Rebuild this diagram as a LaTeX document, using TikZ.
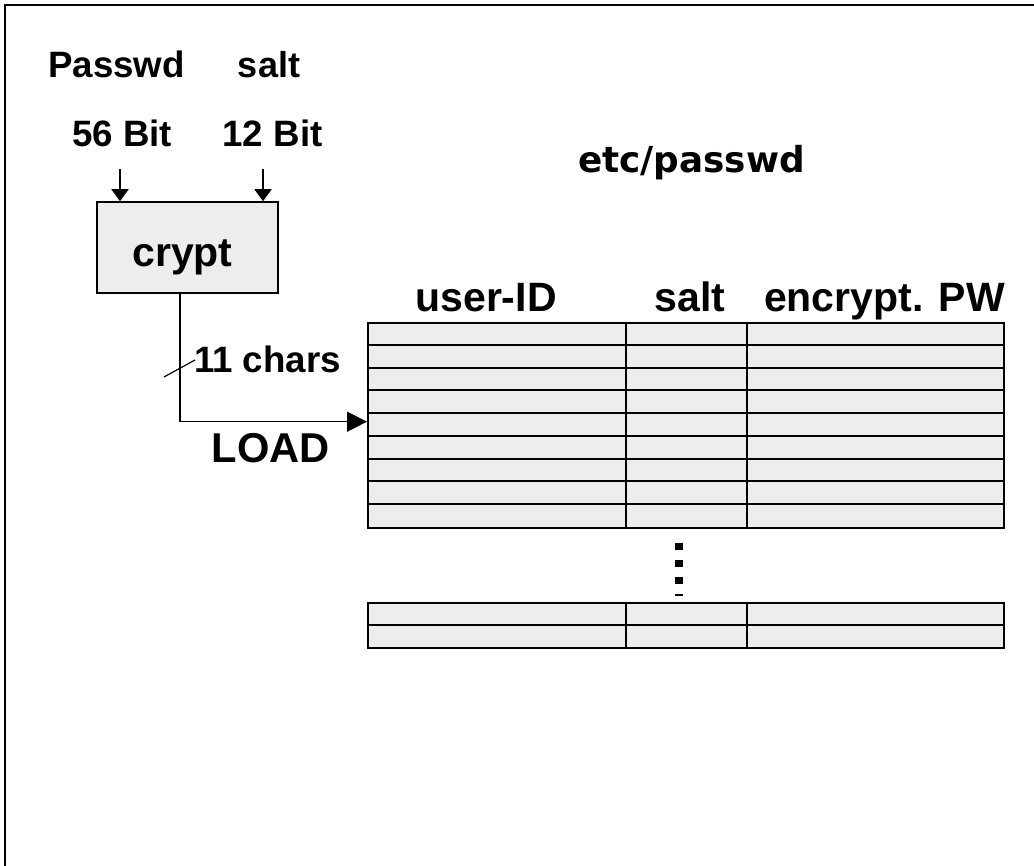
\documentclass[tikz,border=0pt]{standalone}
\usepackage{fontspec}
\setmainfont{Liberation Sans}
\newfontfamily\comicish{DejaVu Sans}
\usetikzlibrary{arrows.meta}
\definecolor{cellgray}{HTML}{EDEDED}
\begin{document}
\begin{tikzpicture}[x=1pt,y=-1pt,
  lbl/.style={font=\bfseries\fontsize{36.7}{40}\selectfont, anchor=base, inner sep=0pt},
  big/.style={font=\bfseries\fontsize{41}{45}\selectfont, anchor=base, inner sep=0pt},
  tblbox/.style={draw, line width=2pt, fill=cellgray, minimum width=636pt, inner sep=0pt},
  grid/.style={line width=2pt},
  inarr/.style={line width=1.5pt, -{Triangle[length=12pt,width=17pt]}},
  loadarr/.style={line width=1.5pt, -{Triangle[length=20pt,width=20pt]}}]
\useasboundingbox (0,0) rectangle (1034,866);
% frame
\draw[line width=2pt] (5,866) -- (5,5) -- (1034,5);

% labels
\node[lbl] (pw) at (116.5,78) {Passwd};
\node[lbl, font=\bfseries\fontsize{36}{40}\selectfont] (sl) at (269,78) {salt};
\node[lbl] (b56) at (122,147) {56 Bit};
\node[lbl] (b12) at (272.5,147) {12 Bit};

% crypt box
\node[draw, line width=1.5pt, fill=cellgray, minimum width=181pt, minimum height=91pt, inner sep=0pt] (crypt) at (187.5,247.5) {};
\node[big] (crypttxt) at (182.5,267) {crypt};

\coordinate (pin) at (120,169);
\coordinate (sin) at (263,169);
\draw[inarr] (pin) -- (pin |- crypt.north);
\draw[inarr] (sin) -- (sin |- crypt.north);

% etc/passwd
\node[anchor=base, inner sep=0pt, font=\comicish\bfseries\fontsize{35.8}{40}\selectfont] (etc) at (691.5,173) {etc/passwd};

% headers
\node[big] (huid) at (486,312) {user-ID};
\node[big] (hsalt) at (690,312) {salt};
\node[big] (henc) at (884.5,312) {encrypt. PW};

% main table
\node[tblbox, minimum height=204.4pt] (tbl) at (686,425.5) {};
\foreach \i in {1,...,8} {
  \draw[grid] ([yshift=-\i*22.71pt]tbl.north west) -- ([yshift=-\i*22.71pt]tbl.north east);
}
\draw[grid] (626,323.3) -- (626,527.7);
\draw[grid] (747,323.3) -- (747,527.7);

% dots
\draw[line width=8pt, dash pattern=on 7pt off 10pt] (679,542.7) -- (679,595.5);

% lower table
\node[tblbox, minimum height=45pt] (tbl2) at (686,625.2) {};
\draw[grid] (tbl2.west) -- (tbl2.east);
\draw[grid] (626,602.7) -- (626,647.7);
\draw[grid] (747,602.7) -- (747,647.7);

% output connector
\coordinate (outx) at (180,0);
\coordinate (load) at (367,421.7);
\draw[loadarr] (crypt.south -| outx) |- (load);
\draw[line width=1.2pt] (164,377) -- (195,360);
\node[lbl] (chars) at (267.5,373) {11 chars};
\node[lbl, font=\bfseries\fontsize{41.7}{45}\selectfont] (load) at (271,463) {LOAD};
\end{tikzpicture}
\end{document}
